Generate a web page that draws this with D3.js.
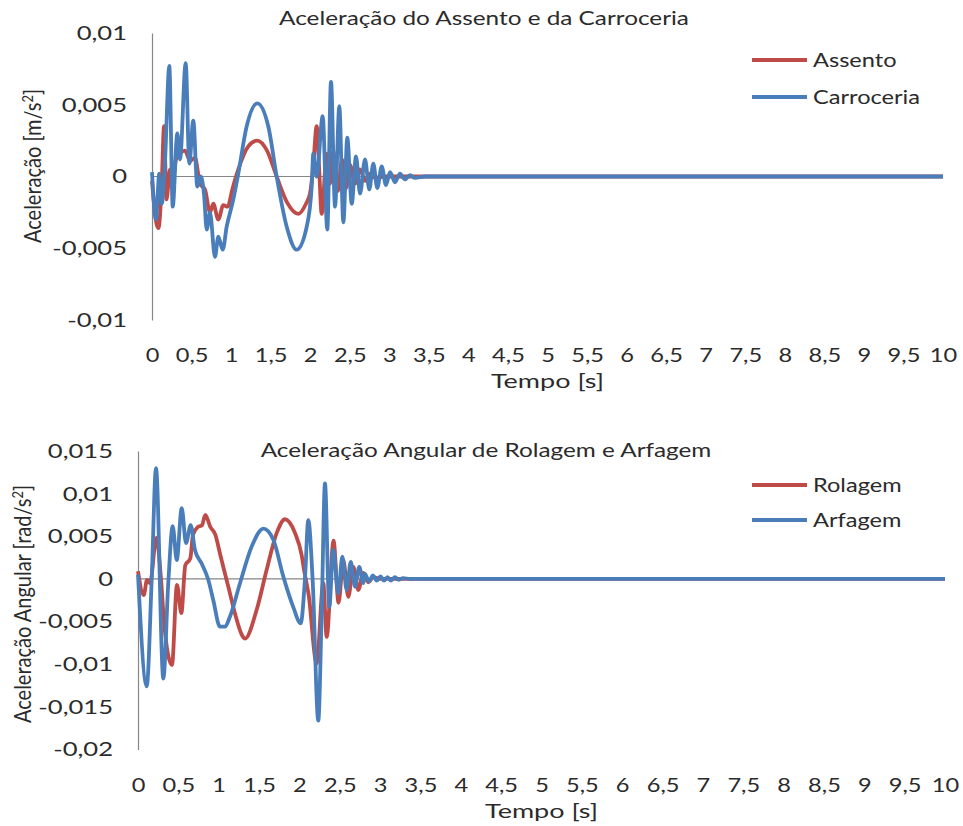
<!DOCTYPE html>
<html>
<head>
<meta charset="utf-8">
<script src="https://cdn.jsdelivr.net/npm/d3@7"></script>
<style>
  body { margin: 0; background: #fff; }
  svg text { font-family: Lato, "Open Sans", sans-serif; fill: #2b2b2b; }
</style>
</head>
<body>
<svg id="chart" width="963" height="826"></svg>
<script>
// ---- data ----
const xTicks = [0,0.5,1,1.5,2,2.5,3,3.5,4,4.5,5,5.5,6,6.5,7,7.5,8,8.5,9,9.5,10];
const yTicksTop = [-0.01,-0.005,0,0.005,0.01];
const yTicksBottom = [-0.02,-0.015,-0.01,-0.005,0,0.005,0.01,0.015];

// Assento (seat), m/s2
const assentoT = [0,0.057,0.082,0.123,0.152,0.183,0.228,0.253,0.303,0.354,0.417,0.48,0.544,0.607,0.67,0.733,0.775,0.838,0.901,0.957,1.015,1.091,1.217,1.331,1.454,1.576,1.707,1.85,1.947,1.997,2.035,2.082,2.111,2.145,2.209,2.25,2.292,2.351,2.402,2.453,2.503,2.566,2.63,2.693,2.756,2.819,2.946,10];
const assentoV = [-0.0003,-0.0033,-0.0036,-0.0005,0.0035,-0.0016,0.0005,-0.0008,0.0012,0.0016,0.0018,0.0011,0.0013,-0.0005,-0.0009,-0.0025,-0.0019,-0.003,-0.002,-0.0021,-0.0009,0.0005,0.0021,0.0025,0.0018,0,-0.0018,-0.0026,-0.0019,-0.0012,0.0005,0.0035,0.0008,-0.0026,0.0016,-0.0005,0.0018,-0.001,0.0012,-0.0008,0.0008,-0.0005,0.0005,-0.0003,0.0002,-0.0001,0,0];

// Carroceria (body), m/s2
const carroceriaT = [0,0.05,0.092,0.123,0.164,0.219,0.262,0.32,0.354,0.426,0.472,0.522,0.573,0.616,0.657,0.692,0.733,0.796,0.838,0.894,0.944,1.028,1.091,1.197,1.331,1.47,1.576,1.703,1.829,1.956,2.019,2.039,2.082,2.158,2.216,2.263,2.314,2.368,2.419,2.469,2.525,2.579,2.63,2.693,2.747,2.798,2.848,2.904,2.958,3.009,3.072,3.135,3.198,3.262,3.325,3.45,10];
const carroceriaV = [0.0003,-0.003,0.0002,-0.0019,0.001,0.0077,-0.0021,0.003,0.0012,0.0079,0.0009,0.0039,-0.0007,0,-0.0012,-0.0037,-0.0025,-0.0056,-0.0042,-0.0051,-0.0035,-0.0016,0.0002,0.0035,0.0051,0.0035,0,-0.0035,-0.0051,-0.0035,-0.0007,0.0016,0,0.0042,-0.0037,0.0066,-0.0021,0.0049,-0.0032,0.0027,-0.0019,0.0014,-0.0012,0.0012,-0.0009,0.0009,-0.0008,0.0007,-0.0006,0.0003,-0.0004,0.0002,-0.0002,0.0001,-0.0001,0,0];

// Rolagem (roll), rad/s2
const rolagemT = [0,0.071,0.112,0.149,0.228,0.285,0.322,0.421,0.483,0.537,0.586,0.648,0.682,0.743,0.793,0.834,0.896,0.958,1.02,1.124,1.206,1.289,1.326,1.471,1.595,1.719,1.822,1.945,2.028,2.055,2.115,2.214,2.296,2.338,2.423,2.485,2.544,2.606,2.668,2.73,2.792,2.854,2.916,2.999,10];
const rolagemV = [0.0009,-0.0019,-0.0001,-0.0005,0.0048,0,-0.005,-0.0101,-0.0007,-0.004,0.0016,0.0024,0.0052,0.0061,0.0063,0.0075,0.0061,0.0052,0.0028,-0.0011,-0.0042,-0.0066,-0.007,-0.0036,0.0011,0.0054,0.007,0.0054,0.0028,0.0012,-0.0019,-0.0099,-0.0005,-0.0068,0.0045,-0.0028,0.0022,-0.0021,0.0014,-0.0013,0.0007,-0.0004,0.0002,0,0];

// Arfagem (pitch), rad/s2
const arfagemT = [0,0.108,0.17,0.223,0.314,0.375,0.43,0.48,0.542,0.595,0.653,0.706,0.789,0.871,0.933,1.016,1.078,1.14,1.264,1.409,1.553,1.677,1.8,1.924,2.016,2.069,2.11,2.165,2.234,2.276,2.317,2.37,2.42,2.482,2.532,2.586,2.636,2.689,2.742,2.792,2.813,2.862,2.912,2.958,3.005,3.048,3.092,3.135,3.184,3.234,3.284,3.37,10];
const arfagemV = [0.0005,-0.0126,0,0.013,-0.0117,-0.0005,0.0062,0.0022,0.0083,0.0042,0.0063,0.0034,0.0018,-0.0001,-0.0025,-0.0056,-0.0056,-0.0044,-0.0005,0.0038,0.0059,0.0046,0.0003,-0.0033,-0.0052,0,0.0069,-0.0003,-0.0166,-0.004,0.0112,-0.0033,0.0034,-0.0017,0.0026,-0.0013,0.002,-0.0009,0.0014,-0.0005,0.0006,-0.0003,0.0004,-0.0002,0.0003,-0.0002,0.0002,-0.0002,0.0002,-0.0001,0.0001,0,0];

const RED = "#BE4B48", BLUE = "#4A7EBB";
const SX = 1.28; // the source picture is stretched sideways

const svg = d3.select("#chart");
const locale = d3.formatLocale({decimal: ",", thousands: ".", grouping: [3], currency: ["", ""], minus: "-"});
const fmt = locale.format("~g");

function zip(t, v) { return t.map((d, i) => ({t: d, v: v[i]})); }

// widen a text around its own anchor point
function stretch(sel, sx) {
  sel.each(function() {
    const t = d3.select(this);
    const x = +t.attr("x") || 0;
    t.attr("transform", `translate(${x},0) scale(${sx},1) translate(${-x},0)`);
  });
}

function panel(o) {
  const x = d3.scaleLinear().domain([0, 10]).range(o.xr);
  const y = d3.scaleLinear().domain(o.yd).range(o.yr);
  const g = svg.append("g");

  // y axis
  const ya = g.append("g")
    .attr("transform", `translate(${o.xr[0]},0)`)
    .call(d3.axisLeft(y).tickValues(o.yTicks).tickFormat(fmt).tickSize(0).tickPadding(25));
  ya.select(".domain").attr("stroke", "#868686").attr("stroke-width", 1.2);
  ya.selectAll("text").style("font-size", "20px").attr("fill", "#2b2b2b").call(stretch, SX);

  // x axis labels (no line)
  const xa = g.append("g")
    .attr("transform", `translate(0,${o.yr[0]})`)
    .call(d3.axisBottom(x).tickValues(xTicks).tickFormat(fmt).tickSize(0).tickPadding(o.xPad));
  xa.select(".domain").remove();
  xa.selectAll("text").style("font-size", "20px").attr("fill", "#2b2b2b").call(stretch, 1.18);

  // zero line
  g.append("line")
    .attr("x1", x(0)).attr("x2", x(10))
    .attr("y1", y(0)).attr("y2", y(0))
    .attr("stroke", "#868686").attr("stroke-width", 1.2);

  const line = d3.line().x(d => x(d.t)).y(d => y(d.v)).curve(d3.curveMonotoneX);
  o.series.forEach(s => {
    g.append("path").datum(zip(s.t, s.v))
      .attr("d", line)
      .attr("fill", "none")
      .attr("stroke", s.color)
      .attr("stroke-width", 3.8)
      .attr("stroke-linejoin", "round");
  });

  // titles
  g.append("text").attr("x", o.titleX).attr("y", o.titleY)
    .attr("text-anchor", "middle").style("font-size", "19px").text(o.title)
    .call(stretch, 1.28);
  g.append("text").attr("x", (x(0) + x(10)) / 2).attr("y", o.xTitleY)
    .attr("text-anchor", "middle").style("font-size", "20px").text("Tempo [s]")
    .call(stretch, 1.35);
  g.append("text")
    .attr("transform", `translate(${o.yTitleX},${o.yTitleY}) rotate(-90) scale(1,1.15)`)
    .attr("text-anchor", "middle").style("font-size", "20px")
    .html(o.yTitle);

  // legend
  o.series.forEach((s, i) => {
    const ly = o.legY + i * o.legGap;
    g.append("line").attr("x1", 752).attr("x2", 807).attr("y1", ly).attr("y2", ly)
      .attr("stroke", s.color).attr("stroke-width", 3.8);
    g.append("text").attr("x", 813).attr("y", ly + 7).style("font-size", "20px").text(s.name)
      .call(stretch, 1.18);
  });
}

panel({
  xr: [152, 943], yd: [-0.01, 0.01], yr: [320, 33], yTicks: yTicksTop, xPad: 28,
  title: "Aceleração do Assento e da Carroceria", titleX: 484, titleY: 25,
  xTitleY: 388, yTitle: "Aceleração [m/s<tspan dy='-7' style='font-size:13px'>2</tspan><tspan dy='7'>]</tspan>",
  yTitleX: 41, yTitleY: 166,
  legY: 60, legGap: 37,
  series: [
    {name: "Assento", t: assentoT, v: assentoV, color: RED},
    {name: "Carroceria", t: carroceriaT, v: carroceriaV, color: BLUE}
  ]
});

panel({
  xr: [138, 945], yd: [-0.02, 0.015], yr: [749.5, 451], yTicks: yTicksBottom, xPad: 28,
  title: "Aceleração Angular de Rolagem e Arfagem", titleX: 486, titleY: 457,
  xTitleY: 818, yTitle: "Aceleração Angular [rad/s<tspan dy='-7' style='font-size:13px'>2</tspan><tspan dy='7'>]</tspan>",
  yTitleX: 31, yTitleY: 604,
  legY: 485, legGap: 35,
  series: [
    {name: "Rolagem", t: rolagemT, v: rolagemV, color: RED},
    {name: "Arfagem", t: arfagemT, v: arfagemV, color: BLUE}
  ]
});
</script>
</body>
</html>
